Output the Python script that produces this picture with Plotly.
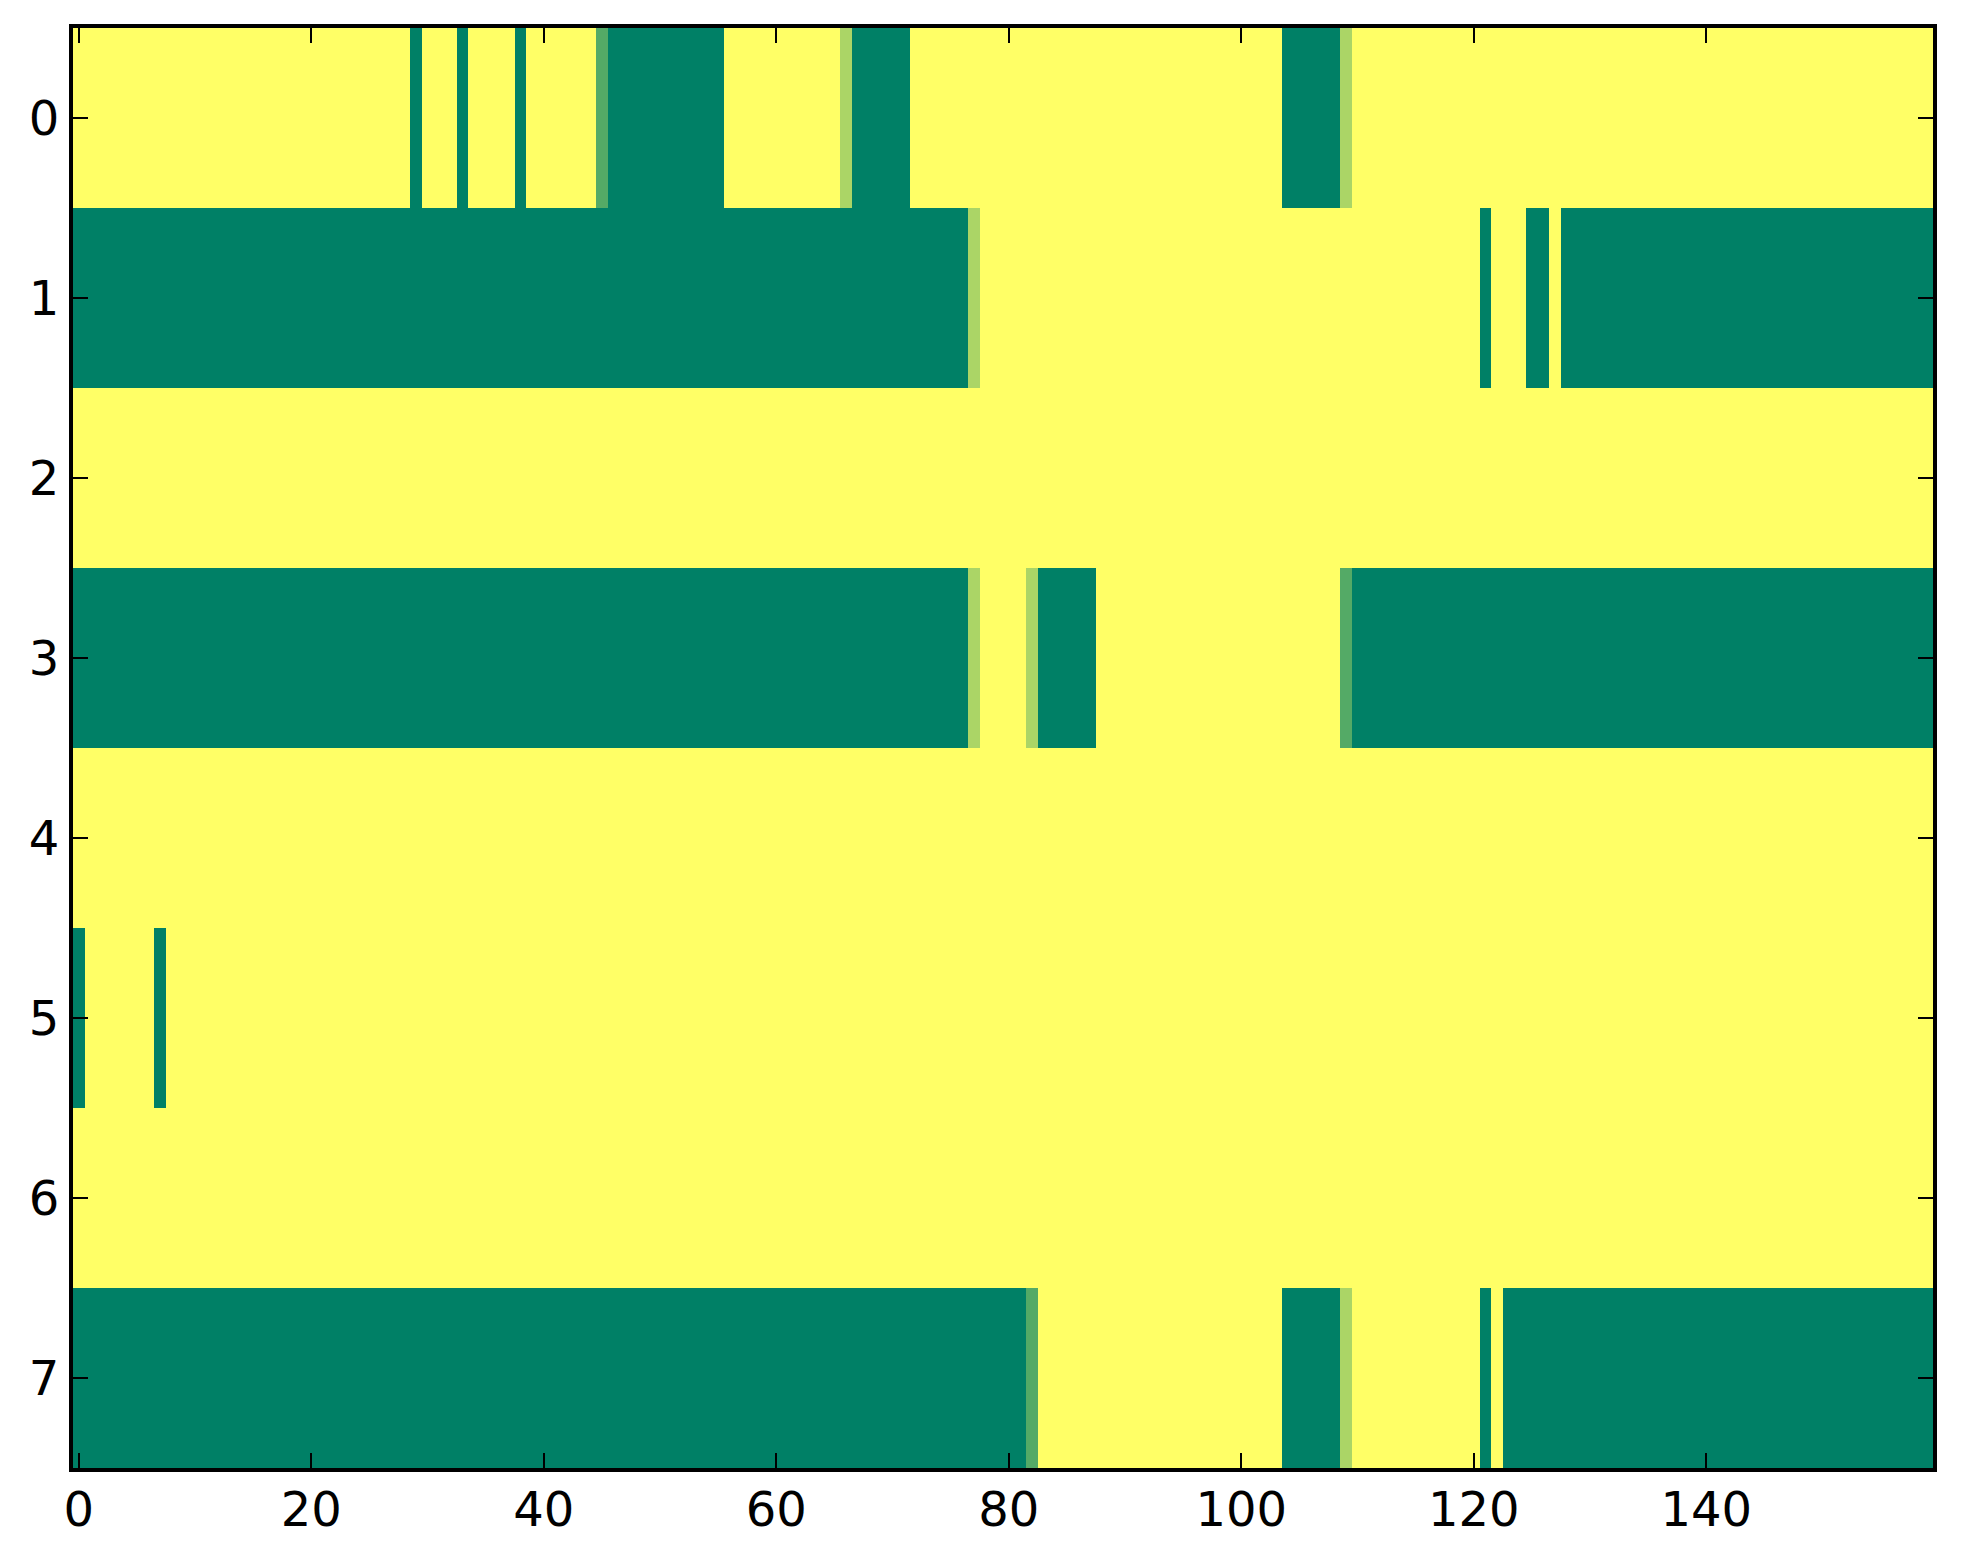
import numpy as np
import plotly.graph_objects as go

# each row of the image as (value, run length) pairs
# 1 = yellow, 0 = green, in-between cells are the pale/medium greens
row0 = [(1, 29), (0, 1), (1, 3), (0, 1), (1, 4), (0, 1), (1, 6), (0.33, 1),
        (0, 10), (1, 10), (0.67, 1), (0, 5), (1, 32), (0, 5), (0.67, 1), (1, 50)]
row1 = [(0, 77), (0.67, 1), (1, 43), (0, 1), (1, 3), (0, 2), (1, 1), (0, 32)]
row2 = [(1, 160)]
row3 = [(0, 77), (0.67, 1), (1, 4), (0.67, 1), (0, 5), (1, 21), (0.33, 1), (0, 50)]
row4 = [(1, 160)]
row5 = [(0, 1), (1, 6), (0, 1), (1, 152)]
row6 = [(1, 160)]
row7 = [(0, 82), (0.33, 1), (1, 21), (0, 5), (0.67, 1), (1, 11), (0, 1), (1, 1), (0, 37)]

rows = [row0, row1, row2, row3, row4, row5, row6, row7]
x_ticks = [0, 20, 40, 60, 80, 100, 120, 140]
y_ticks = [0, 1, 2, 3, 4, 5, 6, 7]


def expand(runs):
    out = []
    for val, n in runs:
        out += [val] * n
    return out


z = np.array([expand(r) for r in rows])

# matplotlib "summer"
summer = [[0.0, "rgb(0,128,102)"], [1.0, "rgb(255,255,102)"]]

fig = go.Figure(go.Heatmap(z=z,
                           x=np.arange(z.shape[1]),
                           y=np.arange(z.shape[0]),
                           colorscale=summer,
                           zmin=0, zmax=1,
                           showscale=False))

axis_style = dict(showline=True, linecolor="black", linewidth=4, mirror="ticks",
                  ticks="inside", ticklen=15, tickwidth=2, tickcolor="black",
                  showgrid=False, zeroline=False,
                  tickfont=dict(family="DejaVu Sans", size=48, color="black"))

fig.update_xaxes(range=[-0.5, 159.5], tickvals=x_ticks, ticklabelstandoff=-4, **axis_style)
fig.update_yaxes(range=[7.5, -0.5], tickvals=y_ticks, **axis_style)

# page body has an 8px margin, so the figure is a bit smaller than the window
fig.update_layout(width=1947, height=1548,
                  margin=dict(l=65, r=22, t=20, b=88),
                  paper_bgcolor="white", plot_bgcolor="white")

fig.write_html("out.html")
